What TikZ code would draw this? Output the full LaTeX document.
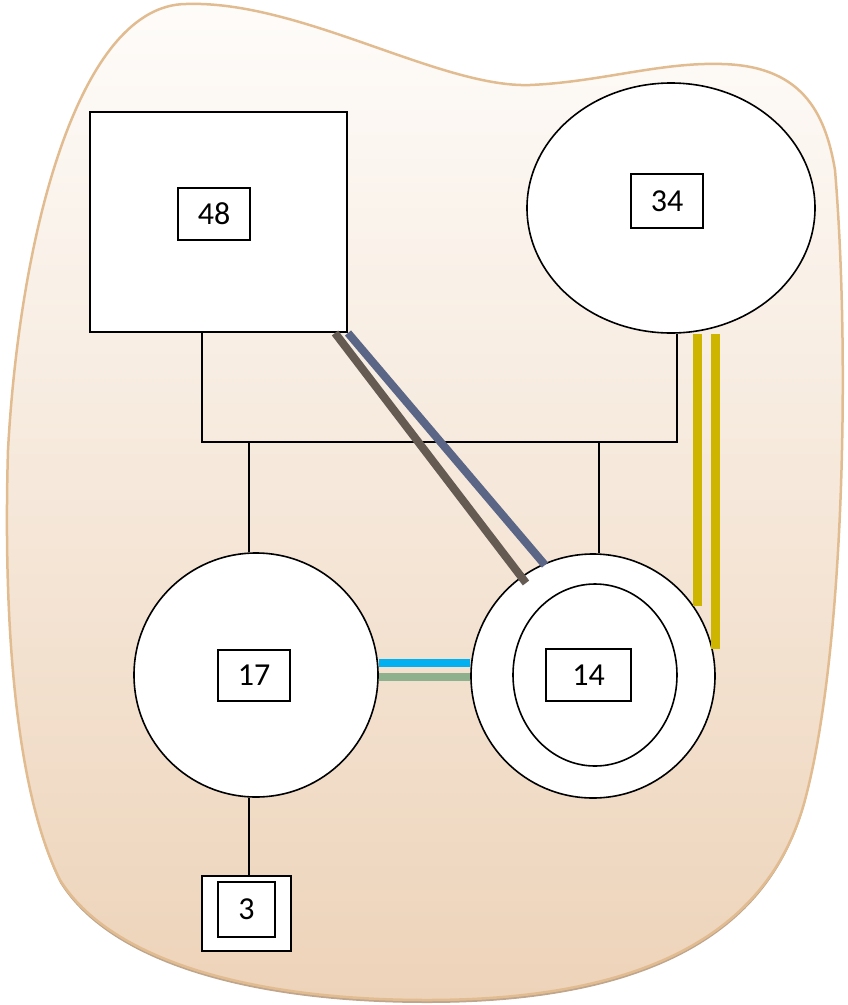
\documentclass[tikz,border=0pt]{standalone}
\usepackage{fontspec}
\setmainfont{Carlito}
\usetikzlibrary{shapes.geometric}

\definecolor{blobtop}{RGB}{254,252,250}
\definecolor{blobbot}{RGB}{237,211,185}
\definecolor{blobline}{RGB}{226,188,145}
\definecolor{blobshade}{RGB}{190,165,140}
\definecolor{linkbrown}{RGB}{101,91,83}
\definecolor{linkslate}{RGB}{91,102,134}
\definecolor{linkgold}{RGB}{206,181,0}
\definecolor{linkcyan}{RGB}{0,176,240}
\definecolor{linksage}{RGB}{143,176,141}

\begin{document}
\begin{tikzpicture}[x=1pt,y=-1pt]
	% Setup the styles for the parts
	\tikzset{part/.style={draw, line width=1.6pt, fill=white, inner sep=0pt},
		tag/.style={part, font=\fontsize{32}{38}\selectfont},
		wire/.style={line width=1.6pt},
		band/.style={line width=8pt}}
	
	\useasboundingbox (0,0) rectangle (848,1005);
	
	% the blob behind everything
	\def\blob{(186,4) .. controls (300,0) and (440,88) .. (530,85)
		.. controls (600,82) and (660,62) .. (722,64)
		.. controls (800,66) and (825,110) .. (835,170)
		.. controls (850,350) and (845,650) .. (805,800)
		.. controls (770,930) and (650,1000) .. (427,1000)
		.. controls (250,1000) and (110,960) .. (60,880)
		.. controls (15,790) and (3,620) .. (8,450)
		.. controls (20,230) and (80,5) .. (186,4) -- cycle}
	\fill[blobshade, yshift=-3pt] \blob;
	\shade[top color=blobtop, bottom color=blobbot, draw=blobline, line width=2.5pt] \blob;
	
	\node[part, rectangle, minimum width=257pt, minimum height=220pt] (r48) at (218.5,222) {};
	\node[tag, minimum width=72pt, minimum height=52pt] (t48) at (214,214) {48};
	
	\node[part, ellipse, minimum width=288pt, minimum height=250pt] (e34) at (671,208) {};
	\node[tag, minimum width=72pt, minimum height=54pt] (t34) at (667,201) {34};
	
	\node[part, circle, minimum size=244pt] (c17) at (256,675) {};
	\node[tag, minimum width=72pt, minimum height=51pt] (t17) at (254,675.5) {17};
	
	\node[part, circle, minimum size=244pt] (c14) at (593,676) {};
	\node[part, ellipse, minimum width=164pt, minimum height=182pt] (e14) at (595,675) {};
	\node[tag, minimum width=85pt, minimum height=52pt] (t14) at (588.5,675) {14};
	
	\node[part, rectangle, minimum width=89pt, minimum height=75pt] (b3) at (246.5,913.5) {};
	\node[tag, minimum width=57pt, minimum height=55pt] (t3) at (246.5,909.5) {3};
	
	% the tree of thin wires
	\coordinate (jl) at (202,442);
	\coordinate (jr) at (677,442);
	\coordinate (j17) at (249,442);
	\coordinate (j14) at (599,442);
	\draw[wire] (r48.south -| jl) -- (jl) -- (jr) -- (jr |- e34.south);
	\draw[wire] (j17) -- (j17 |- c17.north);
	\draw[wire] (j14) -- (j14 |- c14.north);
	\draw[wire] (j17 |- c17.south) -- (j17 |- b3.north);
	
	% the thick bands
	\coordinate (br48) at (335,333);
	\coordinate (br14) at (526,583);
	\coordinate (sl48) at (348,333);
	\coordinate (sl14) at (545,565);
	\coordinate (ga) at (697.5,606);
	\coordinate (gb) at (715.5,649);
	\draw[band, linkbrown] (br48) -- (br14);
	\draw[band, linkslate] (sl48) -- (sl14);
	\draw[band, linkgold, line width=9pt] (ga |- e34.south) -- (ga);
	\draw[band, linkgold, line width=9pt] (gb |- e34.south) -- (gb);
	\draw[band, linkcyan] (c17.east |- 0,663) -- (c14.west |- 0,663);
	\draw[band, linksage] (c17.east |- 0,677) -- (c14.west |- 0,677);
	
\end{tikzpicture}
\end{document}
